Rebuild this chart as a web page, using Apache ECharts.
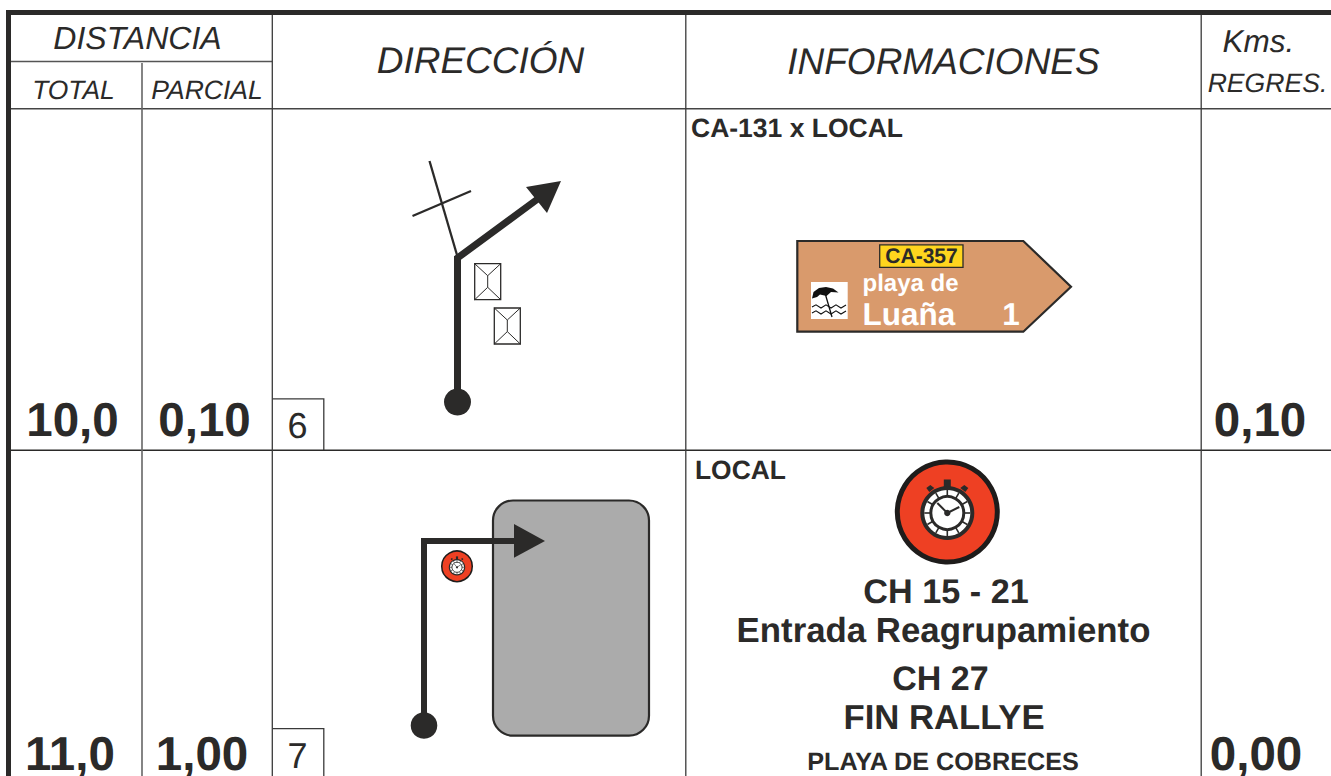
<!DOCTYPE html>
<html><head><meta charset="utf-8">
<style>html,body{margin:0;padding:0;background:#fff}#c{width:1331px;height:776px}svg text{text-rendering:geometricPrecision}</style>
<script src="https://cdn.jsdelivr.net/npm/echarts@6/dist/echarts.min.js"></script>
</head><body><div id="c"></div>
<script>
// ---- chart content ----
const groupHeader = 'DISTANCIA';
const subHeaders = ['TOTAL', 'PARCIAL'];
const mainHeaders = ['DIRECCIÓN', 'INFORMACIONES'];
const lastHeader = ['Kms.', 'REGRES.'];
const totalKm = ['10,0', '11,0'];
const partialKm = ['0,10', '1,00'];
const remainingKm = ['0,10', '0,00'];
const stepNumbers = ['6', '7'];
const roadNames = ['CA-131 x LOCAL', 'LOCAL'];
const signTexts = ['CA-357', 'playa de', 'Luaña', '1'];
const finishTexts = ['CH 15 - 21', 'Entrada Reagrupamiento', 'CH 27', 'FIN RALLYE', 'PLAYA DE COBRECES'];

// ---- drawing ----
const INK = '#2b2a29';
const marks = [];
const line = (pts, w, c) => marks.push({k: 'line', pts, w: w, c: c || INK});
const poly = (pts, fill, stroke, w) => marks.push({k: 'poly', pts, fill, stroke, w: w || 0});
const circle = (x, y, r, fill, stroke, w) => marks.push({k: 'circle', pts: [[x, y]], r, fill, stroke, w: w || 0});
const rect = (x0, y0, x1, y1, fill, stroke, w, r) => marks.push({k: 'rect', pts: [[x0, y0], [x1, y1]], fill, stroke, w: w || 0, r: r || 0});
const text = (s, x, base, size, style, align, c) => marks.push({k: 'text', pts: [[x, base - size * 0.34]], s, size, style: style || '', align: align || 'center', c: c || INK});

// header + rows frame
rect(6, 10, 1331, 15, INK);
rect(6, 10, 11, 776, INK);
line([[11, 61.5], [272, 61.5]], 1.4, '#555');
line([[11, 108.7], [1331, 108.7]], 1.4, '#444');
line([[11, 450.2], [1331, 450.2]], 1.4, INK);
line([[142, 63], [142, 776]], 1.6, '#666');
line([[272.3, 15], [272.3, 776]], 1.3, '#3a3a3a');
line([[685.8, 15], [685.8, 776]], 1.3, '#3a3a3a');
line([[1201.2, 15], [1201.2, 776]], 1.3, '#3a3a3a');
line([[272.3, 398.8], [323.8, 398.8], [323.8, 450]], 1.3, '#3a3a3a');
line([[272.3, 728.6], [323.8, 728.6], [323.8, 776]], 1.3, '#3a3a3a');

text(groupHeader, 137.5, 49, 32, 'italic');
text(subHeaders[0], 73.5, 99, 26.4, 'italic');
text(subHeaders[1], 207, 99, 26.5, 'italic');
text(mainHeaders[0], 480.5, 73, 37, 'italic');
text(mainHeaders[1], 943.5, 74, 37, 'italic');
text(lastHeader[0], 1258.5, 52, 31.5, 'italic');
text(lastHeader[1], 1267.5, 92, 26.6, 'italic');

const valueBase = [437, 771], stepBase = [438, 768];
[0, 1].forEach(i => {
  text(totalKm[i], [72.5, 70][i], valueBase[i], 47.5, 'bold');
  text(partialKm[i], [204.5, 202][i], valueBase[i], 47.5, 'bold');
  text(remainingKm[i], [1260, 1256][i], valueBase[i], 47.5, 'bold');
  text(stepNumbers[i], 297.5, stepBase[i], 36, '');
});

// row 1 direction diagram
circle(457.5, 402, 13.5, INK);
line([[429.5, 161], [457, 255]], 2.3);
line([[412.5, 216], [471, 191]], 2.3);
line([[457.5, 402], [457.5, 258], [537, 199.5]], 7);
poly([[526, 187], [561, 181], [547, 213]], INK);
function house(x0, y0, x1, y1) {
  rect(x0, y0, x1, y1, '#fff', INK, 1.3);
  const mx = (x0 + x1) / 2, a = y0 + 12, b = y1 - 12.4;
  line([[x0, y0], [mx, a], [x1, y0]], 1);
  line([[mx, a], [mx, b]], 1);
  line([[x0, y1], [mx, b], [x1, y1]], 1);
}
house(474.7, 263.7, 500.7, 299.7);
house(494.3, 308, 520.3, 344);

// row 1 road sign
poly([[797.3, 241], [1023.3, 241], [1071, 286.7], [1023.3, 331.7], [797.3, 331.7]], '#d99a6c', INK, 2.2);
rect(879.7, 244.8, 963, 267.4, '#ffd51e', INK, 1.3);
text(signTexts[0], 921.5, 264, 21, 'bold');
text(signTexts[1], 862.5, 291.5, 24, 'bold', 'left', '#fff');
text(signTexts[2], 862.5, 325, 31.5, 'bold', 'left', '#fff');
text(signTexts[3], 1011, 325, 31.5, 'bold', 'center', '#fff');
rect(811, 282, 847.7, 319, '#fff');
poly([[812, 298.5], [813.5, 292], [819, 288], [826, 287], [833, 288.5], [838.5, 292.5], [831, 292], [826.5, 296], [820, 294.5], [817, 297]], '#111');
line([[825, 293], [832, 317]], 1.3, '#111');
[307, 313].forEach(y => line([[812, y], [816, y - 2.2], [821, y + 1], [826, y - 2.2], [831, y + 1], [836, y - 2.2], [841, y + 1], [846, y - 2]], 1.1, '#111'));

text(roadNames[0], 691, 137, 26.5, 'bold', 'left');
text(roadNames[1], 695, 479, 26.4, 'bold', 'left');

// stopwatch emblem
function stopwatch(cx, cy, s) {
  circle(cx, cy, 50 * s, '#ee4023', '#1e1c1b', 5 * s);
  rect(cx - 3.5 * s, cy - 32.5 * s, cx + 3.5 * s, cy - 24 * s, INK);
  poly([[cx - 17 * s, cy - 27 * s], [cx - 13 * s, cy - 24 * s], [cx - 18 * s, cy - 20 * s], [cx - 21 * s, cy - 24 * s]], INK);
  poly([[cx + 17 * s, cy - 27 * s], [cx + 13 * s, cy - 24 * s], [cx + 18 * s, cy - 20 * s], [cx + 21 * s, cy - 24 * s]], INK);
  circle(cx, cy + 1, 27 * s, INK);
  circle(cx, cy + 1, 23 * s, '#fff');
  for (let h = 0; h < 12; h++) {
    const a = h * Math.PI / 6;
    line([[cx + 16 * s * Math.sin(a), cy + 1 - 16 * s * Math.cos(a)], [cx + 23 * s * Math.sin(a), cy + 1 - 23 * s * Math.cos(a)]], 1.4 * s + 0.2, INK);
  }
  circle(cx, cy + 1, 16.5 * s, '#fff', INK, 3 * s);
  line([[cx - 10 * s, cy - 9 * s], [cx, cy + 1]], 2 * s, INK);
  line([[cx + 12 * s, cy - 5 * s], [cx, cy + 1]], 2 * s, INK);
  circle(cx, cy + 1, 3.2 * s, INK);
}
stopwatch(947.3, 512, 1);

// row 2 direction diagram
rect(493, 500.5, 649, 735.7, '#ababab', INK, 2.2, 20);
circle(424, 725.5, 13.3, INK);
line([[424, 725], [424, 541], [520, 541]], 6);
poly([[514, 524], [545, 541], [514, 557.7]], INK);
stopwatch(457, 566.3, 0.305);

// row 2 information
text(finishTexts[0], 946, 604, 34.2, 'bold');
text(finishTexts[1], 943.5, 642, 34.8, 'bold');
text(finishTexts[2], 940.5, 691, 34, 'bold');
text(finishTexts[3], 944, 730, 34.7, 'bold');
text(finishTexts[4], 943, 771, 25.2, 'bold');

function renderItem(params, api) {
  const m = marks[api.value(2)];
  const pts = m.pts.map(p => api.coord(p));
  if (m.k === 'line') return {type: 'polyline', shape: {points: pts}, style: {stroke: m.c, lineWidth: m.w, fill: null, lineJoin: 'miter'}};
  if (m.k === 'poly') return {type: 'polygon', shape: {points: pts}, style: {fill: m.fill, stroke: m.stroke || null, lineWidth: m.w, lineJoin: 'miter'}};
  if (m.k === 'circle') return {type: 'circle', shape: {cx: pts[0][0], cy: pts[0][1], r: m.r}, style: {fill: m.fill, stroke: m.stroke || null, lineWidth: m.w}};
  if (m.k === 'rect') return {type: 'rect', shape: {x: pts[0][0], y: pts[0][1], width: pts[1][0] - pts[0][0], height: pts[1][1] - pts[0][1], r: m.r}, style: {fill: m.fill, stroke: m.stroke || null, lineWidth: m.w}};
  return {type: 'text', style: {text: m.s, x: pts[0][0], y: pts[0][1], fill: m.c, fontFamily: 'Liberation Sans', fontSize: m.size, fontWeight: m.style === 'bold' ? 'bold' : 'normal', fontStyle: m.style === 'italic' ? 'italic' : 'normal', align: m.align, verticalAlign: 'middle'}};
}

const chart = echarts.init(document.getElementById('c'), null, {renderer: 'svg'});
chart.setOption({
  animation: false,
  backgroundColor: '#fff',
  tooltip: {show: false},
  grid: {left: 0, right: 0, top: 0, bottom: 0},
  xAxis: {type: 'value', min: 0, max: 1331, show: false},
  yAxis: {type: 'value', min: 0, max: 776, inverse: true, show: false},
  series: [{
    type: 'custom', coordinateSystem: 'cartesian2d', silent: true, clip: true,
    renderItem,
    encode: {x: 0, y: 1},
    data: marks.map((m, i) => [m.pts[0][0], m.pts[0][1], i])
  }]
});
</script></body></html>
